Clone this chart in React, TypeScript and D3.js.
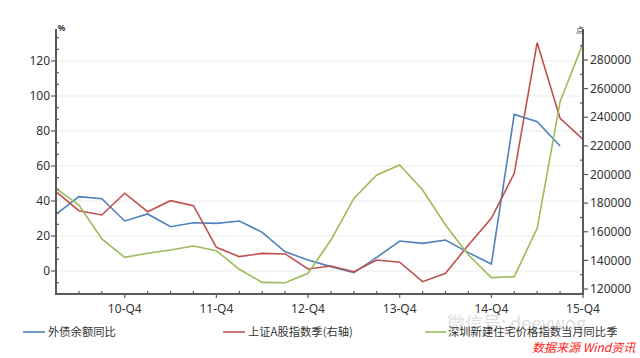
import React from "react";
import * as d3 from "d3";

const quarters = ["10-Q1","10-Q2","10-Q3","10-Q4","11-Q1","11-Q2","11-Q3","11-Q4","12-Q1","12-Q2","12-Q3","12-Q4","13-Q1","13-Q2","13-Q3","13-Q4","14-Q1","14-Q2","14-Q3","14-Q4","15-Q1","15-Q2","15-Q3","15-Q4"];
const xTickLabels = ["10-Q4","11-Q4","12-Q4","13-Q4","14-Q4","15-Q4"];

const debtYoY = [32.4,42.5,41.3,28.6,32.6,25.3,27.6,27.2,28.6,22.1,11.0,6.3,2.5,-1.0,7.8,17.1,15.8,17.7,10.5,4.0,89.5,85.3,71.4];
const shanghaiA = [188000,174700,171700,186900,174000,181700,178200,149100,142600,144900,144500,134000,136100,132100,140300,138700,125100,131000,150700,169400,200800,292100,239300,224600];
const shenzhenHouse = [47.2,37.7,18.3,7.8,10.1,12.0,14.3,11.6,1.0,-6.5,-6.7,-1.3,17.7,41.5,54.9,60.6,46.3,26.3,9.1,-3.8,-3.2,24.4,96.7,130.1];

const leftTicks = [0,20,40,60,80,100,120];
const rightTicks = [120000,140000,160000,180000,200000,220000,240000,260000,280000];

const legendNames = ["外债余额同比","上证A股指数季(右轴)","深圳新建住宅价格指数当月同比季"];
const colors = ["#4f81bd","#c0504d","#9bbb59"];

export default function App() {
  const W = 640, H = 358;
  const left = 56, right = 583, top = 29, bottom = 294;
  const x = d3.scaleLinear().domain([0, quarters.length - 1]).range([left, right]);
  const yL = d3.scaleLinear().domain([0, 120]).range([271, 61]);
  const yR = d3.scaleLinear().domain([120000, 280000]).range([289, 60]);

  const lineL = d3.line<number>().x((_, i) => x(i)).y(d => yL(d));
  const lineR = d3.line<number>().x((_, i) => x(i)).y(d => yR(d));

  const yMinL = yL.invert(bottom), yMaxL = yL.invert(top);
  const minorL: number[] = [];
  for (let v = Math.ceil(yMinL / (20 / 3)) * (20 / 3); v <= yMaxL; v += 20 / 3) {
    if (Math.abs(Math.round(v / 20) * 20 - v) > 0.01) minorL.push(v);
  }
  const yMinR = yR.invert(bottom), yMaxR = yR.invert(top);
  const minorR: number[] = [];
  for (let v = Math.ceil(yMinR / 10000) * 10000; v <= yMaxR; v += 10000) {
    if (v % 20000 !== 0) minorR.push(v);
  }

  const axisColor = "#5a5a5a";
  const textColor = "#333";
  const font = "'Noto Sans', 'Noto Sans CJK SC', sans-serif";
  const cjk = "'Noto Sans CJK SC', 'Noto Sans', sans-serif";

  const legendItems = [
    { x0: 23, x1: 45, tx: 48 },
    { x0: 223, x1: 245, tx: 248 },
    { x0: 425, x1: 446, tx: 448 },
  ];

  return (
    <svg width={W} height={H} style={{ position: "absolute", left: 0, top: 0, background: "#fff" }}>
      <rect x={0} y={0} width={W} height={H} fill="#fff" />
      {leftTicks.map(t => (
        <line key={"g" + t} x1={left} x2={right} y1={yL(t)} y2={yL(t)} stroke="#ececec" strokeWidth={1} />
      ))}
      <path d={lineL(debtYoY) || ""} fill="none" stroke={colors[0]} strokeWidth={1.6} />
      <path d={lineR(shanghaiA) || ""} fill="none" stroke={colors[1]} strokeWidth={1.6} />
      <path d={lineL(shenzhenHouse) || ""} fill="none" stroke={colors[2]} strokeWidth={1.6} />

      <line x1={left} x2={left} y1={top} y2={bottom} stroke={axisColor} strokeWidth={2} />
      {leftTicks.map(t => (
        <g key={"l" + t}>
          <line x1={left - 5} x2={left} y1={yL(t)} y2={yL(t)} stroke={axisColor} strokeWidth={1.2} />
          <text x={left - 6} y={yL(t)} dy="0.35em" textAnchor="end" fontSize={12} fontFamily={font} fill={textColor}>{t}</text>
        </g>
      ))}
      {minorL.map((t, i) => (
        <line key={"lm" + i} x1={left} x2={left + 3} y1={yL(t)} y2={yL(t)} stroke={axisColor} strokeWidth={1.2} />
      ))}
      <text x={left + 2} y={top + 2} fontSize={8} fontWeight="bold" fontFamily={font} fill={textColor}>%</text>

      <line x1={right} x2={right} y1={top} y2={bottom} stroke={axisColor} strokeWidth={2} />
      {rightTicks.map(t => (
        <g key={"r" + t}>
          <line x1={right} x2={right + 5} y1={yR(t)} y2={yR(t)} stroke={axisColor} strokeWidth={1.2} />
          <text x={right + 7} y={yR(t)} dy="0.35em" textAnchor="start" fontSize={12} fontFamily={font} fill={textColor}>{t}</text>
        </g>
      ))}
      {minorR.map((t, i) => (
        <line key={"rm" + i} x1={right - 3} x2={right} y1={yR(t)} y2={yR(t)} stroke={axisColor} strokeWidth={1.2} />
      ))}
      <text x={right - 7} y={top + 4} fontSize={8} fontFamily={cjk} fill={textColor}>点</text>

      <line x1={left - 1} x2={right + 1} y1={bottom} y2={bottom} stroke={axisColor} strokeWidth={2} />
      {quarters.map((q, i) => (
        xTickLabels.includes(q) ? (
          <g key={"x" + q}>
            <line x1={x(i)} x2={x(i)} y1={bottom} y2={bottom + 4} stroke={axisColor} strokeWidth={1.2} />
            <text x={x(i)} y={bottom + 19} textAnchor="middle" fontSize={12} fontFamily={font} fill={textColor}>{q}</text>
          </g>
        ) : (
          <line key={"x" + q} x1={x(i)} x2={x(i)} y1={bottom - 3} y2={bottom} stroke={axisColor} strokeWidth={1.2} />
        )
      ))}

      <text x={447} y={330} fontSize={18} fontFamily={cjk} fill="#d8d8d8" opacity={0.8}>微信号: deeywog</text>

      {legendItems.map((it, i) => (
        <g key={"lg" + i}>
          <line x1={it.x0} x2={it.x1} y1={332} y2={332} stroke={colors[i]} strokeWidth={1.6} />
          <text x={it.tx} y={332} dy="0.35em" fontSize={11.3} fontFamily={cjk} fill={textColor}>{legendNames[i]}</text>
        </g>
      ))}

      <text x={532} y={352} fontSize={12} fontStyle="italic" fontFamily={cjk} fill="#ff2020">数据来源 Wind资讯</text>
    </svg>
  );
}
